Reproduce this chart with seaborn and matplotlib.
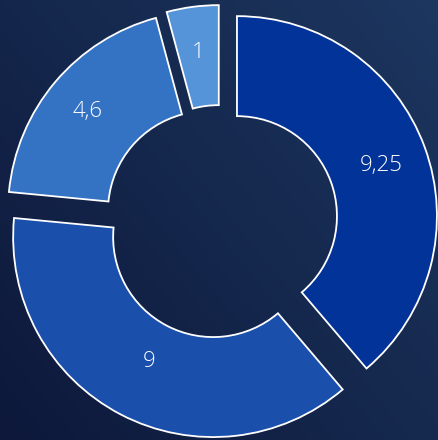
import numpy as np
import matplotlib
matplotlib.use("Agg")
import matplotlib.pyplot as plt
import seaborn as sns

# ---- data ----
values = [9.25, 9, 4.6, 1]
labels = [f"{v:g}".replace(".", ",") for v in values]
colors = ["#023399", "#1a4fac", "#3473c4", "#5694da"]
label_radius = [0.77, 0.69, 0.79, 0.78]

sns.set_theme(style="white")
plt.rcParams["font.family"] = ["Open Sans", "DejaVu Sans"]

fig = plt.figure(figsize=(4.39, 4.40), dpi=100)

# background gradient
bg = fig.add_axes([0, 0, 1, 1], zorder=0)
h, w = 220, 220
yy, xx = np.mgrid[0:1:complex(0, h), 0:1:complex(0, w)]
t = np.clip(0.55 * xx + 0.45 * yy, 0, 1)  # yy=1 top (origin lower)
c0 = np.array([0x0d, 0x18, 0x3a]) / 255
c1 = np.array([0x1d, 0x37, 0x60]) / 255
img = c0[None, None, :] * (1 - t[..., None]) + c1[None, None, :] * t[..., None]
bg.imshow(img, origin="lower", extent=[0, 1, 0, 1], aspect="auto")
bg.set_axis_off()

ax = fig.add_axes([0, 0, 1, 1], zorder=1)
ax.patch.set_alpha(0)
wedges, _ = ax.pie(
    values,
    colors=sns.color_palette(colors),
    startangle=90,
    counterclock=False,
    radius=1.0,
    explode=[0.085] * len(values),
    wedgeprops=dict(width=0.5, edgecolor="white", linewidth=1.3),
)
for wdg, lab, rr in zip(wedges, labels, label_radius):
    ang = np.deg2rad((wdg.theta1 + wdg.theta2) / 2)
    cx, cy = wdg.center
    ax.text(cx + rr * np.cos(ang), cy + rr * np.sin(ang), lab,
            ha="center", va="center_baseline", color="white", fontsize=16,
            fontweight="light", zorder=5)

ax.set_aspect("equal")
ax.set_xlim(-221 / 200, (439 - 221) / 200)
ax.set_ylim(-218 / 200, 222 / 200)
ax.set_axis_off()

fig.savefig("out.png", dpi=100)
